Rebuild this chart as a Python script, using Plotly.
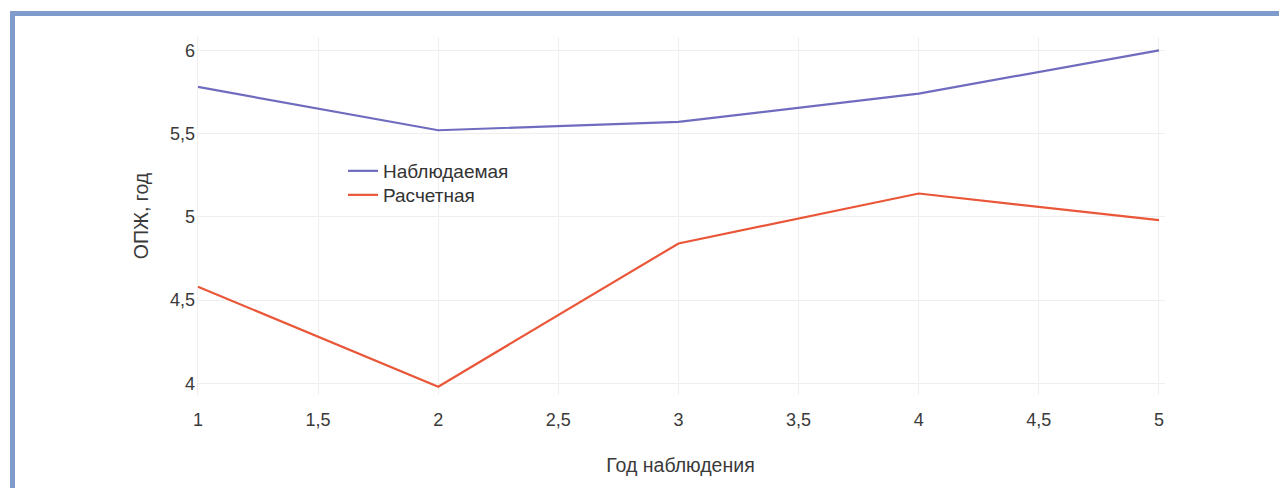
import plotly.graph_objects as go

years = [1, 2, 3, 4, 5]
observed = [5.78, 5.52, 5.57, 5.74, 6.0]
calculated = [4.58, 3.98, 4.84, 5.14, 4.98]
names = ["Наблюдаемая", "Расчетная"]
x_title = "Год наблюдения"
y_title = "ОПЖ, год"

# page body has an 8px margin; figure coordinates = page - 8
W, H = 1271, 480
L, T = 188, 29
R = W - 1157
B = H - 387

fig = go.Figure()
fig.add_trace(go.Scatter(x=years, y=observed, mode="lines", name=names[0],
                         line=dict(color="#6f6cbf", width=2.2), legend="legend"))
fig.add_trace(go.Scatter(x=years, y=calculated, mode="lines", name=names[1],
                         line=dict(color="#ea5638", width=2.2), legend="legend2"))

pw = W - L - R
ph = H - T - B
def px(x):
    return (x - L) / pw
def py(y):
    return (H - B - y) / ph

fig.add_shape(type="rect", xref="paper", yref="paper",
              x0=px(4.5), x1=px(1320), y0=py(5.5), y1=py(540),
              line=dict(color="#7f9bcc", width=5), fillcolor="rgba(0,0,0,0)", layer="above")

font = "Liberation Sans, Arial, sans-serif"
leg_common = dict(xanchor="left", yanchor="top", bgcolor="rgba(0,0,0,0)",
                  font=dict(size=19, color="#333333"))
fig.update_layout(
    width=W, height=H,
    margin=dict(l=L, r=R, t=T, b=B, pad=0),
    paper_bgcolor="white", plot_bgcolor="white",
    separators=", ",
    font=dict(family=font, size=18, color="#3a3a3a"),
    showlegend=True,
    legend=dict(x=px(335), y=py(144), **leg_common),
    legend2=dict(x=px(335), y=py(168), **leg_common),
    xaxis=dict(range=[0.9917, 5.025], dtick=0.5, tick0=1, showgrid=True, gridcolor="#efefef",
               zeroline=False, showline=False, ticks="outside", ticklen=8,
               tickcolor="rgba(0,0,0,0)", tickfont=dict(size=18),
               title=dict(text=x_title, standoff=29, font=dict(size=19.5))),
    yaxis=dict(range=[3.93, 6.08], dtick=0.5, tick0=4, showgrid=True, gridcolor="#efefef",
               zeroline=False, showline=False, ticks="",
               tickfont=dict(size=18),
               title=dict(text=y_title, standoff=16, font=dict(size=19.5))),
)

fig.write_html("out.html")
